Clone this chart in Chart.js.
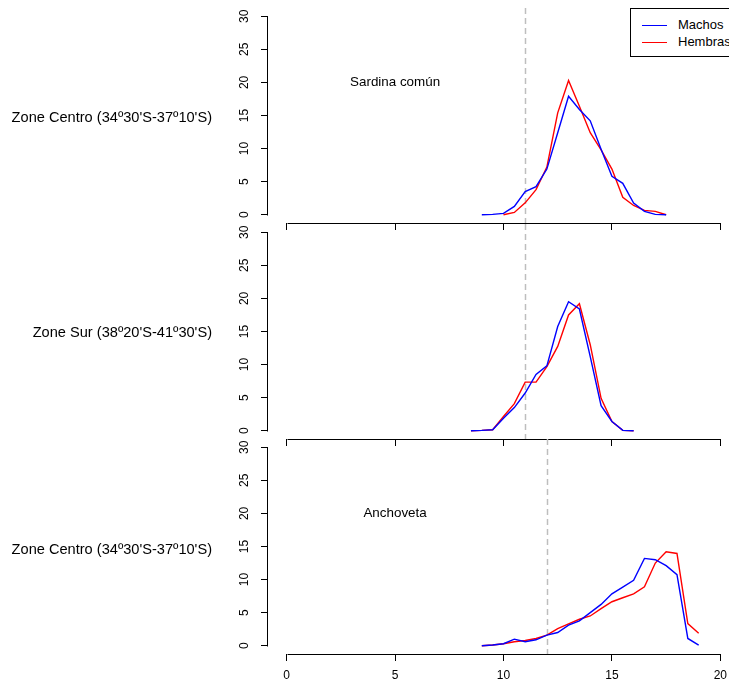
<!DOCTYPE html>
<html>
<head>
<meta charset="utf-8">
<title>Tallas por zona</title>
<script src="https://cdn.jsdelivr.net/npm/chart.js@4.4.1/dist/chart.umd.min.js"></script>
<style>
	body { margin: 0; width: 729px; height: 685px; overflow: hidden; background: #fff; position: relative;
		font-family: "Liberation Sans", Arial, Helvetica, sans-serif; font-size: 12px; color: #000; }
	.panel { position: absolute; left: 0; }
	.zona { position: absolute; left: 0; width: 212px; text-align: right; font-size: 14.6px; line-height: 16px; white-space: nowrap; }
	#leyenda { position: absolute; left: 630px; top: 8px; width: 120px; height: 47px; border: 1px solid #000; background: #fff; font-size: 13px; }
	.item { position: absolute; left: 0; height: 14px; line-height: 14px; white-space: nowrap; }
	.item span { position: absolute; left: 11px; top: 7px; width: 25px; height: 0; }
	.item b { position: absolute; left: 47px; top: 0; font-weight: normal; }
</style>
</head>
<body>
<canvas id="panel1" class="panel" width="739" height="274" style="top:-16px"></canvas>
<canvas id="panel2" class="panel" width="739" height="274" style="top:200px"></canvas>
<canvas id="panel3" class="panel" width="739" height="274" style="top:415px"></canvas>
<div id="leyenda"></div>
<script>
	// ticks
	var ejeX = [0, 5, 10, 15, 20];
	var ejeY = [0, 5, 10, 15, 20, 25, 30];

	// sardina comun, zona centro
	var sardCentroTallaM = [9, 9.5, 10, 10.5, 11, 11.5, 12, 12.5, 13, 13.5, 14, 14.5, 15, 15.5, 16, 16.5, 17, 17.5];
	var sardCentroMachos = [0, 0.05, 0.2, 1.25, 3.5, 4.25, 6.9, 12.4, 17.9, 15.9, 14.2, 9.9, 5.8, 4.75, 1.75, 0.5, 0.05, 0];
	var sardCentroTallaH = [10, 10.5, 11, 11.5, 12, 12.5, 13, 13.5, 14, 14.5, 15, 15.5, 16, 16.5, 17, 17.5];
	var sardCentroHembras = [0, 0.35, 1.8, 3.8, 7.2, 15.4, 20.3, 16.4, 12.4, 9.8, 6.9, 2.65, 1.4, 0.65, 0.5, 0];

	// sardina comun, zona sur
	var sardSurTalla = [8.5, 9, 9.5, 10, 10.5, 11, 11.5, 12, 12.5, 13, 13.5, 14, 14.5, 15, 15.5, 16];
	var sardSurMachos = [0, 0.05, 0.15, 1.9, 3.5, 5.7, 8.5, 9.8, 15.75, 19.5, 18.4, 11.2, 3.8, 1.4, 0.05, 0];
	var sardSurHembras = [0, 0.05, 0.15, 2.15, 4.1, 7.35, 7.35, 9.7, 12.75, 17.5, 19.2, 13.0, 4.9, 1.4, 0.05, 0];

	// anchoveta, zona centro
	var anchTalla = [9, 9.5, 10, 10.5, 11, 11.5, 12, 12.5, 13, 13.5, 14, 14.5, 15, 15.5, 16, 16.5, 17, 17.5, 18, 18.5, 19];
	var anchMachos = [0, 0.1, 0.3, 1.0, 0.6, 0.9, 1.6, 2.0, 3.1, 3.75, 5.0, 6.25, 7.85, 8.85, 9.9, 13.2, 13.0, 12.1, 10.75, 1.1, 0.1];
	var anchHembras = [0, 0.1, 0.3, 0.6, 0.8, 1.1, 1.6, 2.6, 3.3, 4.0, 4.5, 5.6, 6.65, 7.25, 7.85, 8.9, 12.5, 14.2, 13.95, 3.35, 1.9];

	var tallaCorte = [11, 11, 12];
	var especies = ['Sardina común', '', 'Anchoveta'];
	var zonas = ["Zone Centro (34º30'S-37º10'S)", "Zone Sur (38º20'S-41º30'S)", "Zone Centro (34º30'S-37º10'S)"];
	var zonaTop = [109, 324, 541];
	var sexos = ['Machos', 'Hembras'];
	var colores = ['#0000ff', '#ff0000'];

// axis lines only from first to last tick, plus the cut-off line and species name
var rEjes = {
	id: 'rEjes',
	beforeDatasetsDraw: function (chart, args, opts) {
		var ctx = chart.ctx, area = chart.chartArea;
		var px = Math.round(chart.scales.x.getPixelForValue(opts.corte)) + 0.5;
		ctx.save();
		ctx.strokeStyle = '#bebebe';
		ctx.lineWidth = 1.5;
		ctx.setLineDash([6, 4]);
		ctx.beginPath();
		ctx.moveTo(px, area.top);
		ctx.lineTo(px, area.bottom);
		ctx.stroke();
		ctx.restore();
	},
	afterDraw: function (chart, args, opts) {
		var ctx = chart.ctx, area = chart.chartArea;
		var x = chart.scales.x, y = chart.scales.y;
		var lx = Math.round(area.left) - 0.5;
		var ly = Math.round(area.bottom) + 0.5;
		ctx.save();
		ctx.strokeStyle = '#000';
		ctx.lineWidth = 1;
		ctx.beginPath();
		ctx.moveTo(lx, Math.round(y.getPixelForValue(ejeY[0])) + 0.5);
		ctx.lineTo(lx, Math.round(y.getPixelForValue(ejeY[ejeY.length - 1])) + 0.5);
		ctx.moveTo(Math.round(x.getPixelForValue(ejeX[0])) + 0.5, ly);
		ctx.lineTo(Math.round(x.getPixelForValue(ejeX[ejeX.length - 1])) + 0.5, ly);
		ctx.stroke();
		if (opts.texto) {
			ctx.fillStyle = '#000';
			ctx.font = '13.4px "Liberation Sans", Arial, sans-serif';
			ctx.textAlign = 'center';
			ctx.textBaseline = 'middle';
			ctx.fillText(opts.texto, x.getPixelForValue(5), y.getPixelForValue(20));
		}
		ctx.restore();
	}
};

	init();

function init () {
	Chart.defaults.font.family = '"Liberation Sans", Arial, Helvetica, sans-serif';
	Chart.defaults.font.size = 12;
	Chart.defaults.color = '#000';

	panel('panel1', sardCentroTallaM, sardCentroMachos, sardCentroTallaH, sardCentroHembras, 0, false);
	panel('panel2', sardSurTalla, sardSurMachos, sardSurTalla, sardSurHembras, 1, false);
	panel('panel3', anchTalla, anchMachos, anchTalla, anchHembras, 2, true);
	etiquetas();
	leyenda();
}

function puntos (tallas, valores) {
	return tallas.map(function (t, i) { return {x: t, y: valores[i]}; });
}

function panel (id, tallaM, machos, tallaH, hembras, i, conEtiquetas) {
	var ctx = document.getElementById(id).getContext('2d');
	var linea = { pointRadius: 0, borderWidth: 1.4, tension: 0, fill: false };
	new Chart(ctx, {
		type: 'line',
		data: {
			datasets: [
				Object.assign({ label: sexos[0], data: puntos(tallaM, machos), borderColor: colores[0] }, linea),
				Object.assign({ label: sexos[1], data: puntos(tallaH, hembras), borderColor: colores[1] }, linea)
			]
		},
		options: {
			responsive: false,
			animation: false,
			events: [],
			layout: { padding: { top: 24, right: 0, bottom: 0, left: 0 } },
			plugins: {
				legend: { display: false },
				tooltip: { enabled: false },
				rEjes: { corte: tallaCorte[i], texto: especies[i] }
			},
			scales: {
				x: {
					type: 'linear',
					min: -0.86,
					max: 20.86,
					afterBuildTicks: function (s) { s.ticks = ejeX.map(function (v) { return {value: v}; }); },
					afterFit: function (s) { s.height = 35; },
					grid: { drawOnChartArea: false, drawTicks: true, tickLength: 7, color: '#000', lineWidth: 1 },
					border: { display: false },
					ticks: { display: conEtiquetas, padding: 7, maxRotation: 0, color: '#000' }
				},
				y: {
					type: 'linear',
					min: -1.25,
					max: 31.25,
					afterBuildTicks: function (s) { s.ticks = ejeY.map(function (v) { return {value: v}; }); },
					afterFit: function (s) { s.width = 268; },
					grid: { drawOnChartArea: false, drawTicks: true, tickLength: 7, color: '#000', lineWidth: 1 },
					border: { display: false },
					ticks: { minRotation: 90, maxRotation: 90, crossAlign: 'center', padding: 10, color: '#000' }
				}
			}
		},
		plugins: [rEjes]
	});
}

function etiquetas () {
	zonas.forEach(function (z, i) {
		var d = document.createElement('div');
		d.className = 'zona';
		d.style.top = zonaTop[i] + 'px';
		d.textContent = z;
		document.body.appendChild(d);
	});
}

function leyenda () {
	var caja = document.getElementById('leyenda');
	sexos.forEach(function (s, i) {
		var item = document.createElement('div');
		item.className = 'item';
		item.style.top = (9 + i * 17) + 'px';
		item.innerHTML = '<span style="border-top:1.4px solid ' + colores[i] + '"></span><b>' + s + '</b>';
		caja.appendChild(item);
	});
}
</script>
</body>
</html>
